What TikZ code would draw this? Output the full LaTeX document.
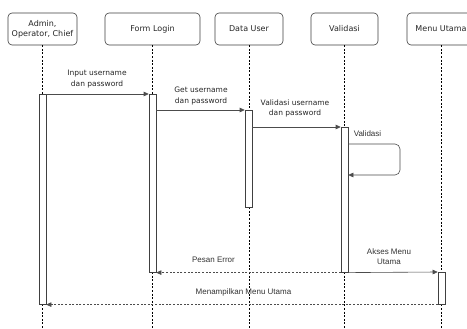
\documentclass[tikz,border=0pt]{standalone}
\usepackage{fontspec}
\newfontfamily\headfont{DejaVu Sans}
\newfontfamily\labfont{Liberation Sans}
\usetikzlibrary{arrows.meta,calc}
\begin{document}
\begin{tikzpicture}[x=1pt,y=1pt,
  headbox/.style={draw=black!75,line width=0.6pt,rounded corners=4pt,fill=white,minimum height=32pt,inner sep=1pt,font=\headfont\fontsize{8}{10}\selectfont,text=black!85,align=center},
  lifeline/.style={draw=black,line width=0.5pt,dash pattern=on 2pt off 1.6pt},
  actbar/.style={draw=black!75,line width=0.6pt,fill=white,minimum width=7pt,inner sep=0pt,anchor=north},
  msg/.style={draw=black!70,line width=0.6pt,-{Triangle[length=5pt,width=4.5pt]}},
  ret/.style={msg,dash pattern=on 2pt off 1.6pt},
  lblA/.style={font=\headfont\fontsize{7.5}{10.5}\selectfont,text=black!85,align=center,inner sep=0pt},
  lblB/.style={font=\labfont\fontsize{8}{10.5}\selectfont,text=black!80,align=center,inner sep=0pt}]
\useasboundingbox (0,0) rectangle (467,-329);
\clip (0,0) rectangle (467,-329);
\fill[white] (0,0) rectangle (467,-329);
% heads
\node[headbox,minimum width=69pt] (hA) at (42.5,-29) {Admin,\\Operator, Chief};
\node[headbox,minimum width=95pt] (hF) at (152.5,-29) {Form Login};
\node[headbox,minimum width=68pt] (hD) at (249,-29) {Data User};
\node[headbox,minimum width=67pt] (hV) at (344.5,-29) {Validasi};
\node[headbox,minimum width=68pt] (hM) at (441,-29) {Menu Utama};
% lifeline ends
\coordinate (eA) at (42.5,-332);
\coordinate (eF) at (152.5,-332);
\coordinate (eD) at (249,-332);
\coordinate (eV) at (344.5,-332);
\coordinate (eM) at (441,-332);
\draw[lifeline] (hA.south) -- (eA);
\draw[lifeline] (hF.south) -- (eF);
\draw[lifeline] (hD.south) -- (eD);
\draw[lifeline] (hV.south) -- (eV);
\draw[lifeline] (hM.south) -- (eM);
% activations
\node[actbar,minimum height=210pt] (aA) at (42.5,-94) {};
\node[actbar,minimum height=178pt] (aF) at (152.5,-94) {};
\node[actbar,minimum height=97pt] (aD) at (248.5,-110) {};
\node[actbar,minimum height=145pt] (aV) at (344.5,-127) {};
\node[actbar,minimum height=32pt] (aM) at (441.5,-272) {};
% messages
\draw[msg] (aA.north east) -- (aF.north west);
\node[lblA] (l1) at (97,-79) {Input username\\dan password};
\draw[msg] (aD.north west -| aF.east) -- (aD.north west);
\node[lblA] (l2) at (201,-96) {Get username\\dan password};
\draw[msg] (aV.north west -| aD.east) -- (aV.north west);
\node[lblA] (l3) at (295,-108.5) {Validasi username\\dan password};
% self loop
\coordinate (s1) at ($(aV.north east)+(0,-17)$);
\coordinate (s2) at (400,-144);
\coordinate (s3) at (400,-175);
\coordinate (s4) at ($(aV.north east)+(0,-48)$);
\draw[msg,rounded corners=5pt] (s1) -- (s2) -- (s3) -- (s4);
\node[lblB] (l4) at (367.5,-134) {Validasi};
% returns
\draw[ret] (aV.south west) -- (aF.south east);
\node[lblB] (l5) at (213.5,-260) {Pesan Error};
\draw[msg] (aV.south east) -- (aM.north west);
\node[lblB] (l6) at (389,-256.5) {Akses Menu\\Utama};
\draw[ret] (aM.south west) -- (aA.south east);
\node[lblB] (l7) at (243.5,-292) {Menampilkan Menu Utama};
\end{tikzpicture}
\end{document}
